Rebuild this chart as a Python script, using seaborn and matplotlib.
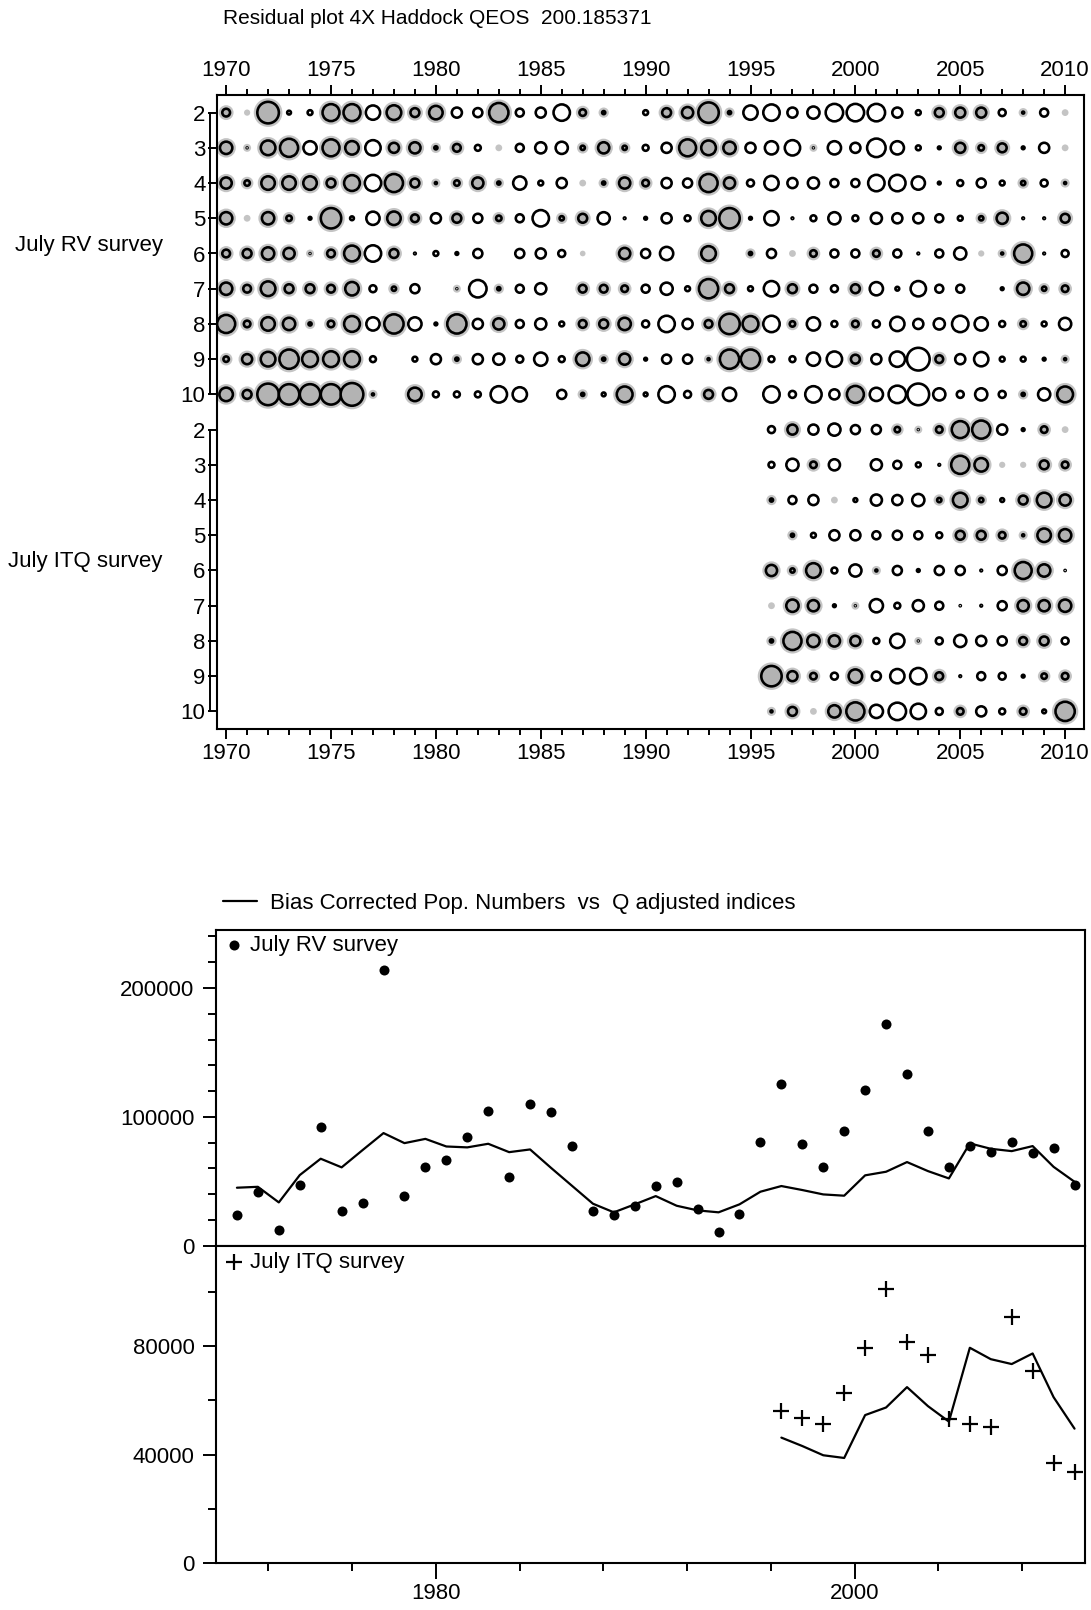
import numpy as np
import pandas as pd
import seaborn as sns
import matplotlib.pyplot as plt
from matplotlib.ticker import MultipleLocator, FixedLocator, FormatStrFormatter

nan = np.nan

years = list(range(1970, 2011))
itq_years = list(range(1996, 2011))
ages = [2, 3, 4, 5, 6, 7, 8, 9, 10]

# residuals, July RV survey (1970-2010), one list per age
rv_age2 = [0.9, 0.15, 2.1, -0.4, -0.5, 1.7, 1.7, -1.4, 1.5, 1.0,
           1.4, -1.0, -0.9, 1.9, -0.8, -1.0, -1.6, 0.8, 0.5, nan,
           -0.5, 1.0, 1.2, 2.0, 0.5, -1.4, -1.6, -1.0, -1.2, -1.7,
           -1.7, -1.7, -1.0, -0.5, 1.0, 1.1, 1.1, -0.7, 0.4, -0.8, 0.2]
rv_age3 = [1.3, 0.3, 1.5, 1.8, -1.3, 1.7, 1.4, -1.5, 1.1, 1.2,
           0.5, 0.9, -0.6, 0.2, -0.8, -1.1, -1.2, 0.6, 1.2, 0.6,
           -0.6, -1.0, 1.7, 1.5, 1.3, -1.0, -1.3, -1.5, 0.3, -1.3,
           -1.0, -1.8, -1.3, -0.5, -0.3, 1.1, 0.7, 1.0, -0.3, -1.0, 0.2]
rv_age4 = [1.2, 0.7, 1.4, 1.4, 1.4, 1.0, 1.6, -1.6, 1.8, 1.0,
           0.4, 0.7, 1.2, 0.5, -1.3, -0.5, -1.0, 0.2, 0.5, 1.2,
           0.8, -1.0, -0.9, 1.8, 1.2, -0.7, -1.4, -1.0, -1.1, -0.8,
           -0.8, -1.6, -1.6, -1.3, -0.3, -0.6, -0.9, -0.5, 0.6, -0.7, 0.4]
rv_age5 = [1.3, 0.2, 1.3, 0.7, -0.3, 2.0, -0.4, -1.3, 1.4, 0.9,
           -1.0, 1.0, -0.9, 0.7, -0.8, -1.6, 0.6, 1.0, -1.2, -0.2,
           -0.3, -1.0, -0.6, 1.5, 2.0, -0.3, -1.4, -0.2, -0.6, -1.2,
           -0.6, -1.1, -1.0, -1.0, -0.8, -0.5, 0.6, 1.2, -0.2, -0.2, 1.0]
rv_age6 = [0.9, 1.0, 1.3, 1.2, 0.3, 0.9, 1.6, -1.6, 1.0, -0.2,
           -0.5, -0.3, -0.9, nan, -0.9, -1.0, -0.7, 0.1, nan, 1.2,
           -0.9, -1.3, nan, 1.5, nan, 0.5, -0.9, 0.2, 0.8, -0.8,
           -0.8, 0.8, -0.8, -0.2, -0.8, -1.2, 0.15, 0.4, 1.8, -0.2, -0.7]
rv_age7 = [1.3, 0.9, 1.5, 1.0, 1.0, 0.9, 1.4, -0.7, 0.6, -0.9,
           nan, 0.3, -1.7, 0.5, -0.8, -1.1, nan, 0.9, 0.9, 0.8,
           -0.8, -1.2, -0.5, 1.9, 1.0, -0.5, -1.5, 1.0, -0.8, -0.7,
           1.0, -1.3, -0.4, -1.5, -0.8, -0.8, nan, -0.3, 1.3, 0.6, 0.8]
rv_age8 = [1.8, 0.8, 1.4, 1.3, 0.5, 0.8, 1.6, -1.3, 1.9, -1.3,
           -0.3, 1.9, -1.0, 1.2, -0.8, -1.1, -0.5, 0.9, 1.0, 1.3,
           -0.7, -1.6, -1.0, 0.9, 2.0, 1.6, -1.6, 0.7, -1.3, -0.6,
           0.8, -0.7, -1.4, -1.0, -1.1, -1.6, -1.3, -0.6, 0.7, -0.5, -1.2]
rv_age9 = [0.7, 1.1, 1.5, 1.9, 1.6, 1.6, 1.6, -0.6, nan, -0.5,
           -1.0, 0.5, -1.0, -1.1, -0.7, -1.3, -0.6, 1.4, 0.5, 1.2,
           -0.3, -0.9, -0.9, 0.4, 1.9, 1.9, -0.6, -0.6, -1.3, -1.5,
           1.0, -1.0, -1.5, -2.2, 0.9, -1.0, -1.4, -0.5, -0.5, -0.3, 0.4]
rv_age10 = [1.4, 1.0, 2.1, 2.0, 2.0, 2.0, 2.2, 0.4, nan, 1.4,
            -0.6, -0.6, -0.6, -1.6, -1.4, nan, -0.9, 0.5, -0.4, 1.6,
            -0.4, -1.6, -0.7, 1.0, -1.3, nan, -1.6, -0.7, -1.6, -1.0,
            1.7, -1.3, -1.7, -2.1, -1.2, -0.7, -1.2, -0.7, 0.5, -1.2, 1.6]

# residuals, July ITQ survey (1996-2010)
itq_age2 = [-0.7, 1.1, -1.0, -1.2, -0.9, -0.9, 0.7, 0.3, 0.8, 1.7, 1.8, -1.0, -0.3, 0.8, 0.2]
itq_age3 = [-0.6, -1.2, 0.8, -1.1, nan, -1.1, -0.8, -0.5, -0.2, 1.8, 1.4, 0.15, 0.15, 1.0, 0.8]
itq_age4 = [0.5, -0.8, -1.0, 0.2, -0.4, -1.1, -1.0, -1.2, 0.6, 1.5, 0.6, -0.4, 1.0, 1.5, 1.2]
itq_age5 = [nan, 0.5, -0.5, -1.0, -1.0, -0.8, -0.9, -0.8, -0.6, 1.0, 1.0, 0.8, 0.4, 1.4, 1.3]
itq_age6 = [1.2, 0.6, 1.5, -0.6, -1.2, 0.4, -0.9, -0.3, -0.9, -0.9, -0.2, -0.9, 1.7, 1.3, -0.15]
itq_age7 = [0.2, 1.3, 1.2, -0.3, 0.3, -1.3, -0.6, -1.1, -0.8, -0.15, -0.2, -0.9, 1.2, 1.2, 1.3]
itq_age8 = [0.5, 1.8, 1.3, 1.2, 1.1, -0.6, -1.4, 0.3, -0.7, -1.2, -1.0, -0.9, 0.9, 1.0, -0.7]
itq_age9 = [2.0, 1.1, 0.8, -0.7, 1.4, -0.9, -1.4, -1.6, 0.9, -0.2, -0.8, -0.7, -0.3, 0.7, 0.8]
itq_age10 = [0.4, 1.0, 0.2, 1.3, 1.8, -1.3, -1.7, -1.5, -0.7, 0.8, -1.0, -0.6, 0.8, -0.4, 1.9]

# bias corrected population numbers and Q adjusted indices
pop_numbers = [45000, 45700, 33600, 54800, 67500, 60800, 74200, 87400, 79600, 82900,
               77000, 76300, 79100, 72600, 74700, 60400, 46500, 32600, 25900, 32100,
               38500, 31000, 27400, 25900, 32100, 41900, 46300, 43200, 39800, 38800,
               54600, 57400, 64900, 57900, 52200, 79400, 75200, 73400, 77300, 61200, 49600]
rv_index = [23800, 41400, 12200, 47000, 92300, 27200, 32800, 213700, 38500, 60800,
            66700, 84000, 104400, 53000, 109800, 103400, 77000, 27200, 23500, 30800,
            46500, 49600, 28400, 10600, 24600, 80100, 125100, 78800, 60800, 89200,
            121000, 172400, 133400, 89200, 60800, 77300, 72900, 80100, 71600, 75500, 46800]
itq_index = [56100, 53700, 51500, 62900, 79400, 101100, 81400, 76800, 53300, 51200,
             50200, 90900, 70700, 36800, 33500]

rv_resid = [rv_age2, rv_age3, rv_age4, rv_age5, rv_age6, rv_age7, rv_age8, rv_age9, rv_age10]
itq_resid = [itq_age2, itq_age3, itq_age4, itq_age5, itq_age6, itq_age7, itq_age8, itq_age9, itq_age10]

sns.set_style("ticks")
plt.rcParams["font.family"] = ["Liberation Sans", "DejaVu Sans"]
plt.rcParams["axes.edgecolor"] = "black"
plt.rcParams["axes.linewidth"] = 1.5
plt.rcParams["xtick.color"] = "black"
plt.rcParams["ytick.color"] = "black"
plt.rcParams["text.color"] = "black"

W, H = 1091, 1610
fig = plt.figure(figsize=(W / 100, H / 100), dpi=100)

# ---------------- residual bubble plot ----------------
frames = []
for k, vals in enumerate(rv_resid):
    frames.append(pd.DataFrame({"year": years, "row": k, "resid": vals}))
for k, vals in enumerate(itq_resid):
    frames.append(pd.DataFrame({"year": itq_years, "row": 9 + k, "resid": vals}))
res = pd.concat(frames, ignore_index=True).dropna()

ring_lw_px = 2.6
r = res["resid"].abs()
# open circles keep a visible hole even when small
diam = np.where(res["resid"] > 0, 11.5 * r, 10.5 * r + 2.2)
res["ring"] = (0.72 * np.maximum(diam - ring_lw_px, 0.8)) ** 2
res["halo"] = (0.72 * (diam + 4.5)) ** 2
pos = res[res["resid"] > 0]
pos_ring = pos[pos["resid"] >= 0.25]
neg = res[res["resid"] < 0]

ax = fig.add_axes([216.7 / W, 1 - 729 / H, (1084 - 216.7) / W, (729 - 95) / H])


def bubbles(df, col, face, edge, lw):
    lo, hi = df[col].min(), df[col].max()
    sns.scatterplot(data=df, x="year", y="row", size=col, sizes=(lo, hi),
                    size_norm=(lo, hi), color=face, edgecolor=edge,
                    linewidth=lw, legend=False, ax=ax)


bubbles(pos, "halo", "#c4c4c4", "none", 0)
bubbles(pos_ring, "ring", "#b3b3b3", "black", ring_lw_px * 0.72)
bubbles(neg, "ring", "white", "black", ring_lw_px * 0.72)

ax.set_xlim(1969.55, 2010.9)
ax.set_ylim(17.5, -0.5)
ax.set_xlabel("")
ax.set_ylabel("")
ax.xaxis.set_major_locator(MultipleLocator(5))
ax.xaxis.set_minor_locator(MultipleLocator(1))
ax.tick_params(axis="x", which="both", top=True, bottom=True, labeltop=True,
               labelbottom=True, direction="out", width=1.4)
ax.tick_params(axis="x", which="major", length=7, labelsize=16, pad=3)
ax.tick_params(axis="x", which="minor", length=4)
ax.set_yticks(range(18))
ax.set_yticklabels([str(a) for a in ages] * 2)
ax.tick_params(axis="y", length=6.5, width=1.4, direction="out", pad=1.5, labelsize=16)

# group brackets
off = -6.5 / ax.get_window_extent().width
ytr = ax.get_yaxis_transform()
ax.plot([off, off], [0, 8], transform=ytr, color="black", lw=1.4, clip_on=False)
ax.plot([off, off], [9, 17], transform=ytr, color="black", lw=1.4, clip_on=False)

fig.text(15 / W, 1 - 246 / H, "July RV survey", fontsize=16, va="center", ha="left")
fig.text(8 / W, 1 - 561 / H, "July ITQ survey", fontsize=16, va="center", ha="left")
fig.text(223 / W, 1 - 19 / H, "Residual plot 4X Haddock QEOS  200.185371",
         fontsize=15, va="center", ha="left")

# ---------------- population numbers vs indices ----------------
mid = [y + 0.5 for y in years]
mid_itq = [y + 0.5 for y in itq_years]
pop_itq = pop_numbers[years.index(itq_years[0]):]

ax1 = fig.add_axes([216 / W, 1 - 1245.7 / H, 869 / W, (1245.7 - 930) / H])
ax2 = fig.add_axes([216 / W, 1 - 1563.3 / H, 869 / W, (1563.3 - 1245.7) / H])

sns.lineplot(x=mid, y=pop_numbers, color="black", linewidth=1.6, ax=ax1)
sns.scatterplot(x=mid, y=rv_index, color="black", s=52, linewidth=0, ax=ax1)
sns.lineplot(x=mid_itq, y=pop_itq, color="black", linewidth=1.6, ax=ax2)
sns.scatterplot(x=mid_itq, y=itq_index, color="black", marker="+", s=120,
                linewidth=1.6, ax=ax2)

for a in (ax1, ax2):
    a.set_xlim(1969.5, 2011.0)
    a.yaxis.set_major_formatter(FormatStrFormatter("%d"))
    a.yaxis.set_minor_locator(MultipleLocator(20000))
    a.tick_params(axis="y", which="major", length=9.4, width=1.4, pad=6, labelsize=16)
    a.tick_params(axis="y", which="minor", length=5.8, width=1.4)

ax1.set_ylim(0, 245000)
ax1.yaxis.set_major_locator(FixedLocator([0, 100000, 200000]))
ax1.tick_params(axis="x", which="both", bottom=False, labelbottom=False)

ax2.set_ylim(0, 117000)
ax2.yaxis.set_major_locator(FixedLocator([0, 40000, 80000]))
ax2.xaxis.set_major_locator(FixedLocator([1980, 2000]))
ax2.xaxis.set_minor_locator(MultipleLocator(4))
ax2.tick_params(axis="x", which="major", length=11.5, width=1.4, pad=3, labelsize=16)
ax2.tick_params(axis="x", which="minor", length=5.8, width=1.4)

leg1 = ax1.legend(handles=[ax1.lines[0]], labels=["Bias Corrected Pop. Numbers  vs  Q adjusted indices"],
                  loc="center left", bbox_to_anchor=(0.008, 1 + 27 / 315.7), frameon=False,
                  fontsize=16, handlelength=1.55, handletextpad=0.55, borderpad=0, borderaxespad=0)
ax1.add_artist(leg1)
ax1.legend(handles=[ax1.collections[-1]], labels=["July RV survey"], loc="center left",
           bbox_to_anchor=(0.011, 1 - 15 / 315.7), frameon=False, fontsize=16,
           handlelength=0.8, handletextpad=0.3, borderpad=0, borderaxespad=0)
ax2.legend(handles=[ax2.collections[-1]], labels=["July ITQ survey"], loc="center left",
           bbox_to_anchor=(0.011, 1 - 17 / 317.6), frameon=False, fontsize=16,
           handlelength=0.8, handletextpad=0.3, borderpad=0, borderaxespad=0)

fig.savefig("out.png", dpi=100)
